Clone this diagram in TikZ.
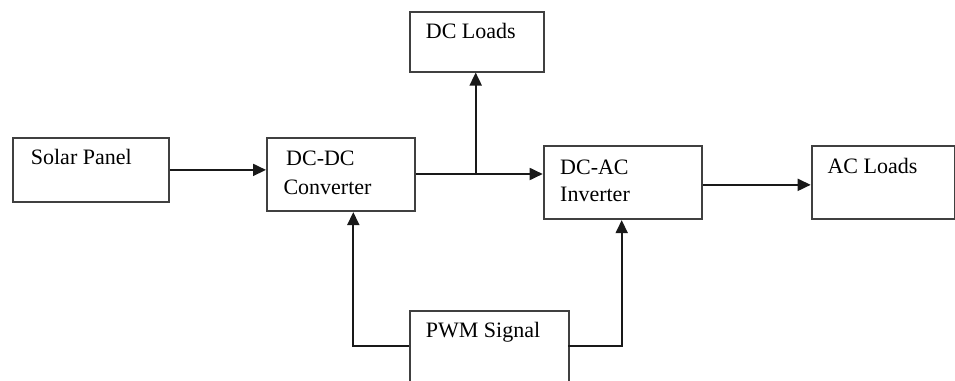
\documentclass[tikz,border=0pt]{standalone}
\usepackage{fontspec}
\setmainfont{Liberation Serif}
\usetikzlibrary{arrows.meta}
\begin{document}
\begin{tikzpicture}[x=1pt,y=-1pt,
  blk/.style={draw=black!75,line width=1.8pt,rectangle,inner sep=0pt,anchor=north west},
  lbl/.style={anchor=base west,inner sep=0pt,font=\fontsize{22}{26}\selectfont},
  conn/.style={line width=1.8pt,draw=black!90,-{Triangle[length=13pt,width=12pt]}},
  wire/.style={line width=1.8pt,draw=black!90}]
\useasboundingbox (0,0) rectangle (955,380);
\clip (0,0) rectangle (955,380);
% boxes
\node[blk,minimum width=155.7pt,minimum height=63.4pt] (solar) at (12,137.3) {};
\node[blk,minimum width=148.3pt,minimum height=73.3pt] (dcdc) at (266,137) {};
\node[blk,minimum width=134pt,minimum height=59.4pt] (dcload) at (409,11.3) {};
\node[blk,minimum width=158pt,minimum height=73.3pt] (dcac) at (542.7,145) {};
\node[blk,minimum width=143pt,minimum height=73.3pt] (acload) at (810.7,145) {};
\node[blk,minimum width=159.3pt,minimum height=72pt] (pwm) at (409,309.7) {};
% labels
\node[lbl] (tsolar) at (30.7,164) {Solar Panel};
\node[lbl] (tdcdc1) at (286,165.7) {DC-DC};
\node[lbl] (tdcdc2) at (283.3,194) {Converter};
\node[lbl] (tdcload) at (425.7,38) {DC Loads};
\node[lbl] (tdcac1) at (560,174) {DC-AC};
\node[lbl] (tdcac2) at (560,201.7) {Inverter};
\node[lbl] (tacload) at (827.3,173.3) {AC Loads};
\node[lbl] (tpwm) at (425.7,337.7) {PWM Signal};
% connectors
\coordinate (j) at (475.7,174);
\coordinate (pl) at (409,345.7);
\coordinate (pr) at (568.3,345.7);
\coordinate (pwmL) at (353.3,345.7);
\coordinate (pwmR) at (621.7,345.7);
\draw[conn] (solar.east) -- (solar.east -| dcdc.west);
\draw[conn] (j -| dcdc.east) -- (j -| dcac.west);
\draw[conn] (j) -- (j |- dcload.south);
\draw[conn] (dcac.east) ++(0,2.3) coordinate (ae) -- (ae -| acload.west);
\draw[conn] (pl) -- (pwmL) -- (pwmL |- dcdc.south);
\draw[conn] (pr) -- (pwmR) -- (pwmR |- dcac.south);
\end{tikzpicture}
\end{document}
